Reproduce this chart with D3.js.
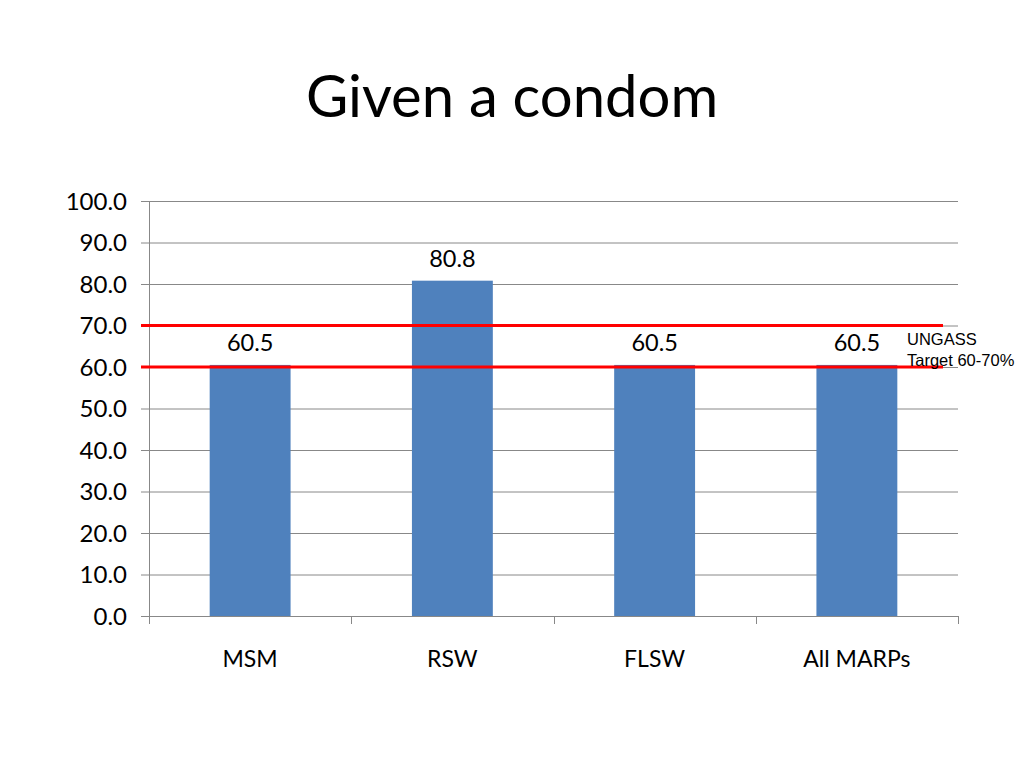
<!DOCTYPE html>
<html><head><meta charset="utf-8">
<script src="https://cdn.jsdelivr.net/npm/d3@7"></script>
<style>body{margin:0;background:#fff}svg{display:block}</style>
</head><body>
<svg id="c" width="1024" height="768"></svg>
<script>
const categories = ["MSM", "RSW", "FLSW", "All MARPs"];
const values = [60.5, 80.8, 60.5, 60.5];
const yTicks = [0, 10, 20, 30, 40, 50, 60, 70, 80, 90, 100];
const targets = [60, 70];
const title = "Given a condom";
const noteLines = ["UNGASS", "Target 60-70%"];

const svg = d3.select("#c");
const font = "Lato, 'Open Sans', sans-serif";
const x0 = 149, x1 = 958, yTop = 201, yBot = 616;
const x = d3.scaleBand().domain(categories).range([x0, x1]).paddingInner(0).paddingOuter(0);
const y = d3.scaleLinear().domain([0, 100]).range([yBot, yTop]);

svg.append("text").attr("x", 512).attr("y", 117).attr("text-anchor", "middle")
  .attr("font-family", font).attr("font-size", 58).attr("fill", "#000").text(title);

// gridlines
svg.append("g").selectAll("line").data(yTicks).join("line")
  .attr("x1", x0 - 8).attr("x2", x1).attr("y1", d => y(d) + 0.5).attr("y2", d => y(d) + 0.5)
  .attr("stroke", "#888").attr("stroke-width", 1);

// y labels
svg.append("g").selectAll("text").data(yTicks).join("text")
  .attr("x", 127).attr("y", d => y(d)).attr("dy", "0.36em").attr("text-anchor", "end")
  .attr("font-family", font).attr("font-size", 24).attr("fill", "#000").text(d => d.toFixed(1));

// y axis line
svg.append("line").attr("x1", x0 + 0.5).attr("x2", x0 + 0.5).attr("y1", yTop).attr("y2", yBot)
  .attr("stroke", "#888");

// x category ticks
const bounds = categories.map(c => x(c)).concat([x1]);
svg.append("g").selectAll("line").data(bounds).join("line")
  .attr("x1", d => Math.round(d) + 0.5).attr("x2", d => Math.round(d) + 0.5)
  .attr("y1", yBot).attr("y2", yBot + 8).attr("stroke", "#888");

// bars
const bw = x.bandwidth() * 0.4;
svg.append("g").selectAll("rect").data(categories).join("rect")
  .attr("x", c => x(c) + x.bandwidth() / 2 - bw / 2)
  .attr("width", bw)
  .attr("y", (c, i) => y(values[i]))
  .attr("height", (c, i) => yBot - y(values[i]))
  .attr("fill", "#4f81bd");

// value labels
svg.append("g").selectAll("text").data(categories).join("text")
  .attr("x", c => x(c) + x.bandwidth() / 2)
  .attr("y", (c, i) => y(values[i]) - 14)
  .attr("text-anchor", "middle").attr("font-family", font).attr("font-size", 23.5)
  .attr("fill", "#000").text((c, i) => values[i].toFixed(1));

// category labels
svg.append("g").selectAll("text").data(categories).join("text")
  .attr("x", c => x(c) + x.bandwidth() / 2).attr("y", 667)
  .attr("text-anchor", "middle").attr("font-family", font).attr("font-size", 23)
  .attr("fill", "#000").text(c => c);

// target lines
svg.append("g").selectAll("line").data(targets).join("line")
  .attr("x1", 141).attr("x2", 943).attr("y1", d => y(d)).attr("y2", d => y(d))
  .attr("stroke", "#ff0000").attr("stroke-width", 3);

// note
svg.append("g").selectAll("text").data(noteLines).join("text")
  .attr("x", 907).attr("y", (d, i) => 345 + i * 21)
  .attr("font-family", "'Liberation Sans', Arial, sans-serif").attr("font-size", 16.5)
  .attr("fill", "#000").text(d => d);
</script>
</body></html>
